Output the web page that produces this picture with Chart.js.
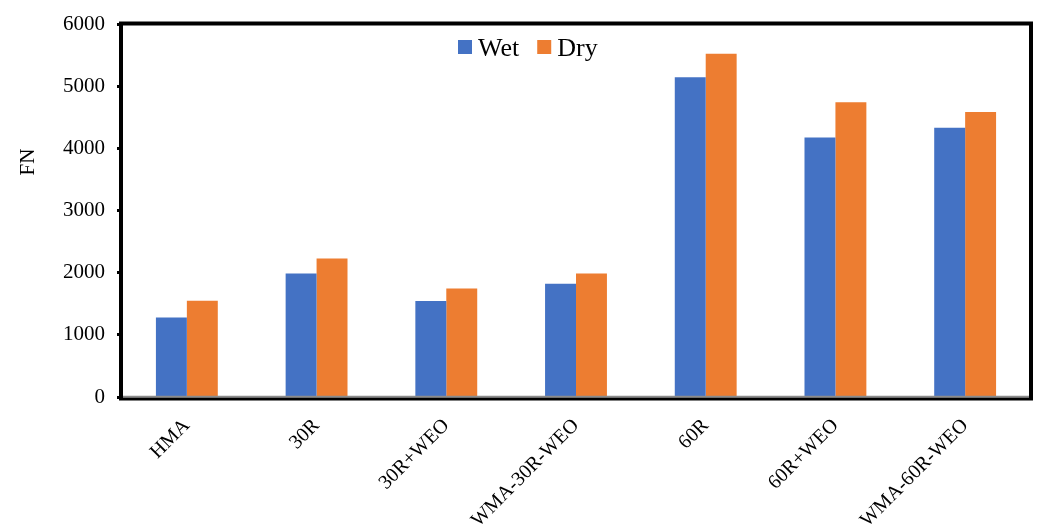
<!DOCTYPE html>
<html>
<head>
<meta charset="utf-8">
<script src="https://cdn.jsdelivr.net/npm/chart.js@4/dist/chart.umd.min.js"></script>
<style>
  html, body { margin: 0; padding: 0; background: #ffffff; }
  #wrap { width: 1038px; height: 527px; position: relative; }
</style>
</head>
<body>
<div id="wrap"><canvas id="chart" width="1038" height="527"></canvas></div>
<script>
// Mixtures tested
const categories = ["HMA", "30R", "30R+WEO", "WMA-30R-WEO", "60R", "60R+WEO", "WMA-60R-WEO"];
// FN under each condition
const wetValues = [1280, 1990, 1545, 1825, 5150, 4180, 4340];
const dryValues = [1550, 2230, 1750, 1990, 5530, 4750, 4590];
const seriesNames = ["Wet", "Dry"];
const seriesColors = ["#4472C4", "#ED7D31"];
// Value axis ticks
const yMin = 0, yMax = 6000, yStep = 1000;
const yTitle = "FN";

const FONT = "'Liberation Serif', 'Times New Roman', serif";

// Heavy black frame round the plot area, grey line along zero
const framePlugin = {
  id: "frame",
  afterDatasetsDraw(chart) {
    const { ctx, chartArea: a, scales } = chart;
    ctx.save();
    const y0 = scales.y.getPixelForValue(0);
    ctx.strokeStyle = "#8c8c8c";
    ctx.lineWidth = 1.5;
    ctx.beginPath();
    ctx.moveTo(a.left, y0 - 0.5);
    ctx.lineTo(a.right, y0 - 0.5);
    ctx.stroke();
    ctx.strokeStyle = "#000000";
    ctx.lineWidth = 4;
    ctx.beginPath();
    ctx.moveTo(a.left - 1, a.bottom + 2);
    ctx.lineTo(a.left - 1, a.top - 1);
    ctx.lineTo(a.right + 1, a.top - 1);
    ctx.lineTo(a.right + 1, a.bottom + 2);
    ctx.stroke();
    ctx.lineWidth = 3;
    ctx.beginPath();
    ctx.moveTo(a.left - 3, a.bottom + 2);
    ctx.lineTo(a.right + 3, a.bottom + 2);
    ctx.stroke();
    ctx.restore();
  }
};

// Legend drawn inside the plot, near the top
const innerLegend = {
  id: "innerLegend",
  afterDraw(chart) {
    const { ctx } = chart;
    ctx.save();
    ctx.font = "26px " + FONT;
    ctx.textBaseline = "alphabetic";
    let x = 458;
    const boxTop = 40, baseline = 56;
    chart.data.datasets.forEach((ds) => {
      ctx.fillStyle = ds.backgroundColor;
      ctx.fillRect(x, boxTop, 14, 14);
      ctx.fillStyle = "#000000";
      ctx.fillText(ds.label, x + 20, baseline);
      x += 20 + ctx.measureText(ds.label).width + 18;
    });
    ctx.restore();
  }
};

// Axis title, set beside the upper half of the value axis
const axisTitle = {
  id: "axisTitle",
  afterDraw(chart) {
    const { ctx } = chart;
    ctx.save();
    ctx.font = "21px " + FONT;
    ctx.fillStyle = "#000000";
    ctx.textAlign = "center";
    ctx.textBaseline = "middle";
    ctx.translate(28, 162);
    ctx.rotate(-Math.PI / 2);
    ctx.fillText(yTitle, 0, 0);
    ctx.restore();
  }
};

new Chart(document.getElementById("chart"), {
  type: "bar",
  data: {
    labels: categories,
    datasets: [
      { label: seriesNames[0], data: wetValues, backgroundColor: seriesColors[0], borderWidth: 0 },
      { label: seriesNames[1], data: dryValues, backgroundColor: seriesColors[1], borderWidth: 0 }
    ]
  },
  options: {
    responsive: false,
    animation: false,
    devicePixelRatio: 1,
    layout: { padding: { top: 23, right: 8, left: 0, bottom: 0 } },
    datasets: { bar: { categoryPercentage: 0.477, barPercentage: 1.0 } },
    plugins: { legend: { display: false }, tooltip: { enabled: false } },
    scales: {
      x: {
        grid: { display: false, drawTicks: false },
        border: { display: false },
        ticks: {
          color: "#000000",
          font: { family: FONT, size: 20 },
          maxRotation: 45, minRotation: 45,
          padding: 17,
          autoSkip: false
        },
        afterFit(scale) { scale.height = 130; }
      },
      y: {
        min: yMin, max: yMax,
        grid: { drawOnChartArea: false, drawTicks: true, tickLength: 5, tickWidth: 3, tickColor: "#000000" },
        border: { display: false },
        ticks: {
          stepSize: yStep,
          color: "#000000",
          font: { family: FONT, size: 21 },
          padding: 12,
          callback: (v) => String(v)
        },
        afterFit(scale) { scale.width = 122; }
      }
    }
  },
  plugins: [framePlugin, innerLegend, axisTitle]
});
</script>
</body>
</html>
